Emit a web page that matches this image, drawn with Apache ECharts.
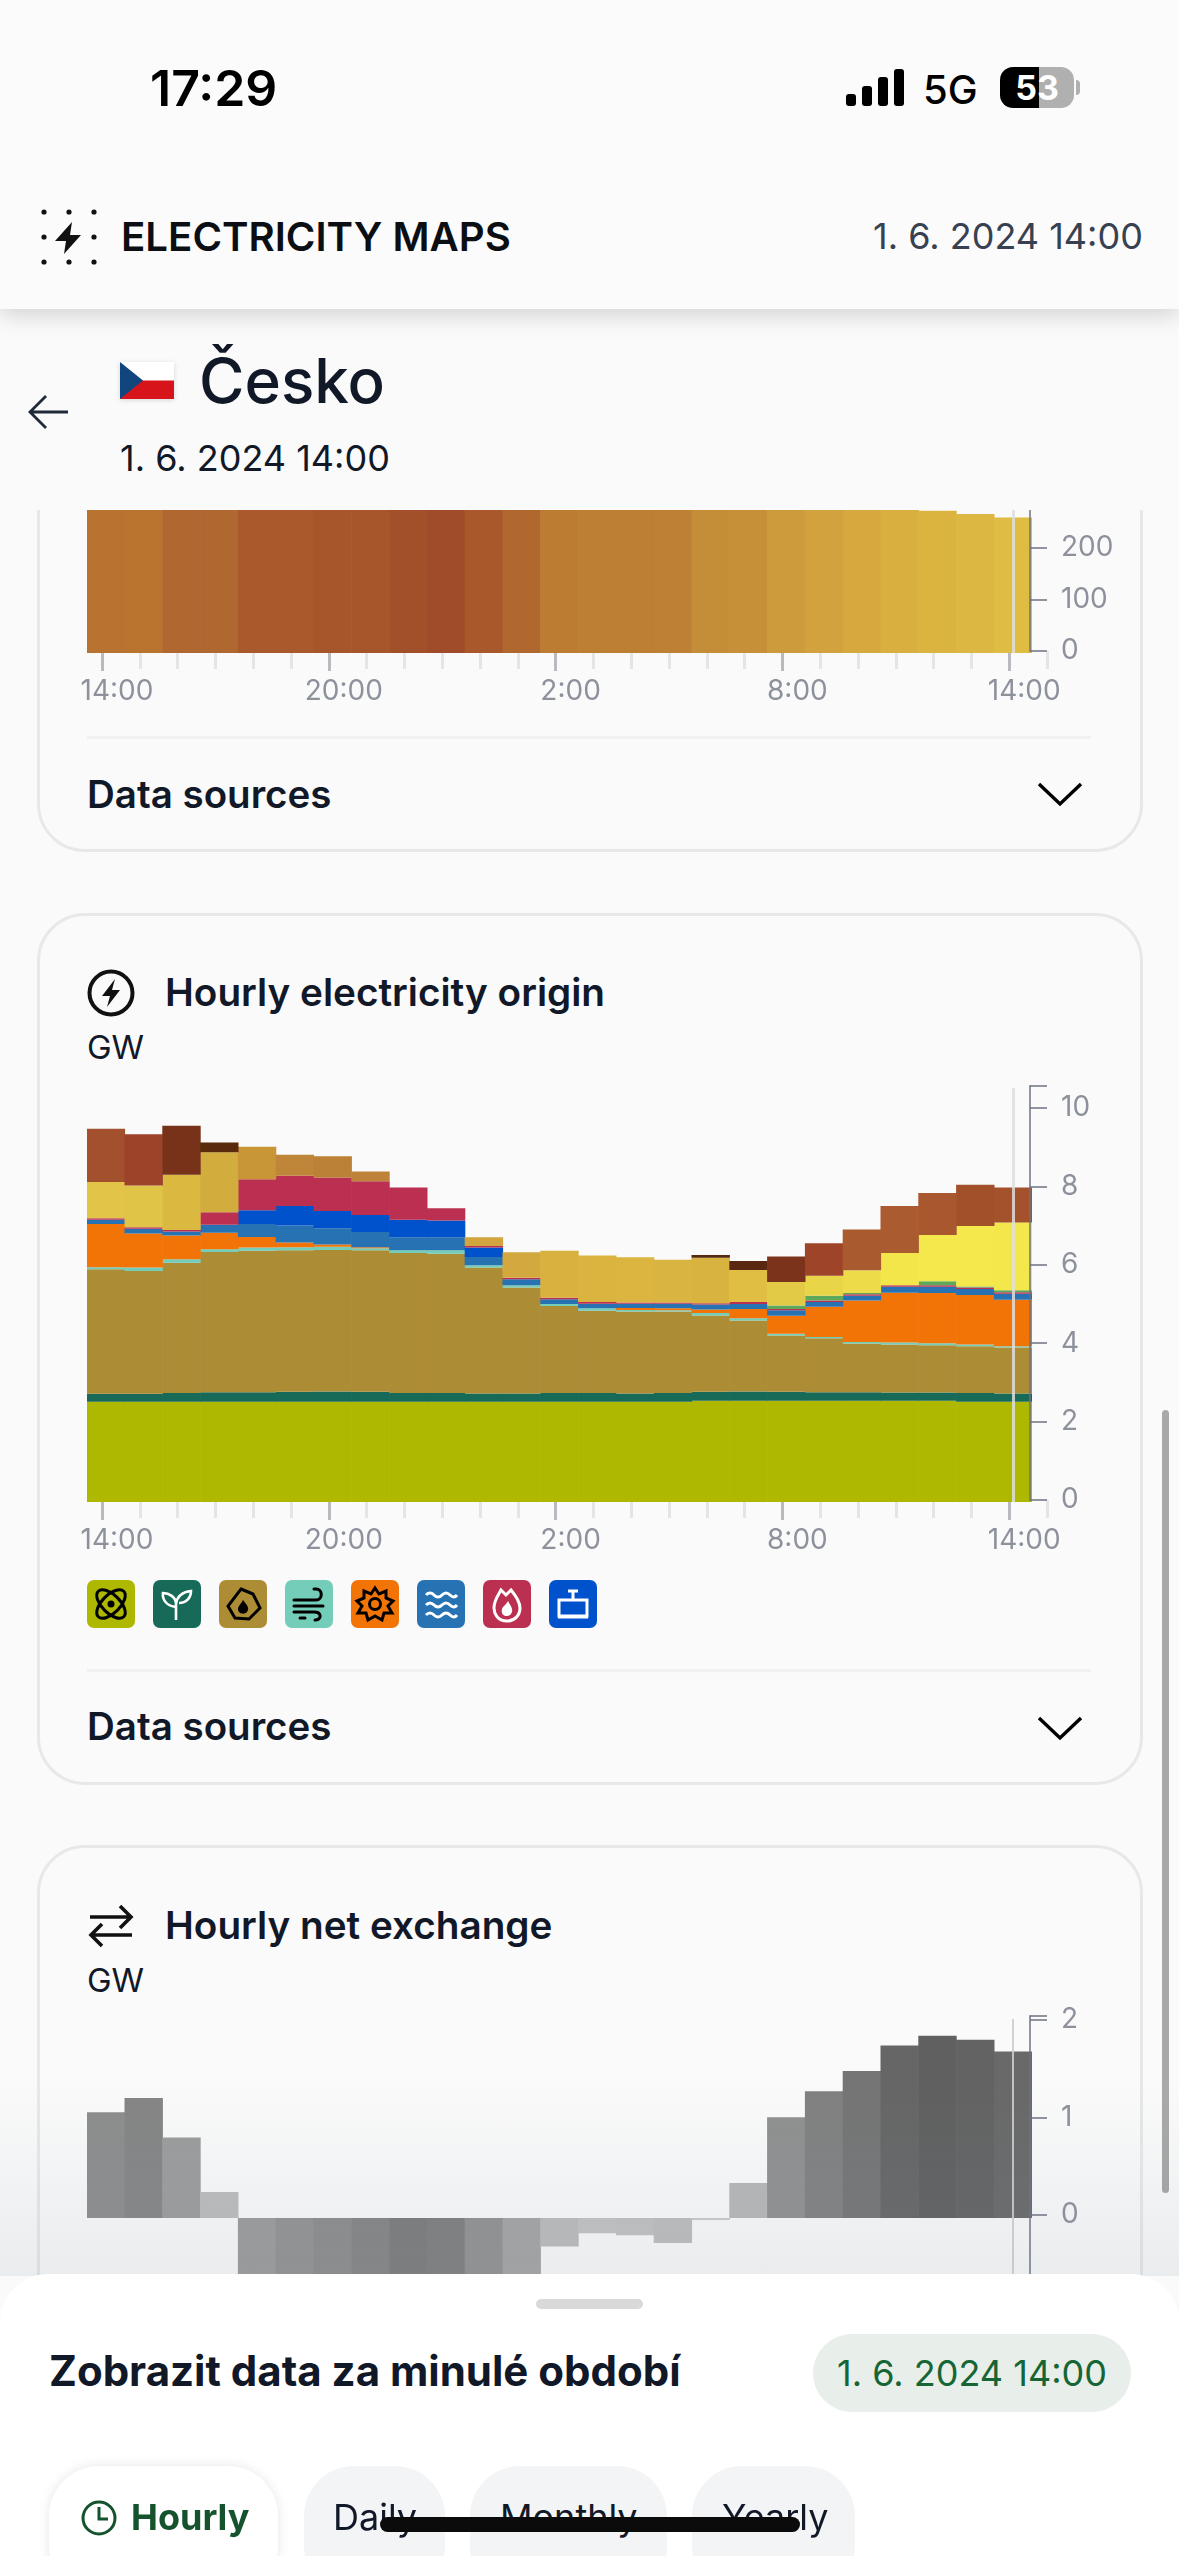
<!DOCTYPE html>
<html><head><meta charset="utf-8">
<script src="https://cdn.jsdelivr.net/npm/echarts@6/dist/echarts.min.js"></script>
<style>
html,body{margin:0;padding:0;background:#fafafa;width:1179px;height:2556px;overflow:hidden;font-family:Inter,"Noto Sans",sans-serif;color:#111827}
.a{position:absolute;white-space:nowrap}
.card{position:absolute;left:37px;width:1100px;border:3px solid #e7e8e9;border-radius:48px;box-sizing:content-box}
.mid{transform:translateY(-50%)}
.ds{left:87px;font-size:38.5px;font-weight:600}
.title{left:165px;font-size:38.7px;font-weight:600}
.gw{left:87px;font-size:33px;font-weight:400}
.div{position:absolute;left:87px;width:1004px;height:3px;background:#f0f1f2}
.lg{position:absolute;width:48px;height:48px;top:1580px;border-radius:7px}
.tab{position:absolute;top:2466px;height:130px;border-radius:50px;background:#f3f4f6}
</style></head><body>
<div class="card" style="top:298px;height:548px"></div>
<div class="card" style="top:913px;height:866px"></div>
<div class="card" style="top:1845px;height:800px"></div>

<div class="a mid ds" style="top:794px">Data sources</div>
<svg class="a" style="left:1036px;top:781px" width="48" height="26"><path d="M3 3 L24 23 L45 3" fill="none" stroke="#000" stroke-width="3.4"/></svg>

<svg class="a" style="left:87px;top:969px" width="48" height="48" viewBox="0 0 48 48"><circle cx="24" cy="24" r="21.5" fill="none" stroke="#111" stroke-width="4"/><path d="M28 10 L15 27 H23 L20 38 L33 21 H25 Z" fill="#111"/></svg>
<div class="a mid title" style="top:992px">Hourly electricity origin</div>
<div class="a mid gw" style="top:1047px">GW</div>

<div class="lg" style="left:87px;background:#aeb800"><svg width="48" height="48" viewBox="0 0 48 48" fill="none" stroke="#000" stroke-width="3"><ellipse cx="24" cy="24" rx="18" ry="9" transform="rotate(45 24 24)"/><ellipse cx="24" cy="24" rx="18" ry="9" transform="rotate(-45 24 24)"/><circle cx="24" cy="24" r="2" fill="#000"/></svg></div>
<div class="lg" style="left:153px;background:#166a57"><svg width="48" height="48" viewBox="0 0 48 48" fill="none" stroke="#fff" stroke-width="2.6"><path d="M23 40 V24 C23 17 16 13 10 13 C9 20 14 26 23 27 M23 24 C24 16 30 12 38 11 C38 18 33 23 26 23"/></svg></div>
<div class="lg" style="left:219px;background:#ac8c35"><svg width="48" height="48" viewBox="0 0 48 48"><path d="M22 9 L34 14 L41 28 L30 39 L16 38 L9 26 Z" fill="none" stroke="#000" stroke-width="3"/><path d="M24 20 C28 25 31 28 28 32 C25 35 19 34 19 29 C19 26 22 24 24 20Z" fill="#000"/></svg></div>
<div class="lg" style="left:285px;background:#74cdb9"><svg width="48" height="48" viewBox="0 0 48 48" fill="none" stroke="#000" stroke-width="3" stroke-linecap="round"><path d="M9 20 H31 C38 20 38 9 31 9 H29 M9 26 H38 M9 32 H29 C37 32 37 40 30 40 M9 26 M20 38 H15"/></svg></div>
<div class="lg" style="left:351px;background:#f27406"><svg width="48" height="48" viewBox="0 0 48 48" fill="none" stroke="#000" stroke-width="3"><path d="M24 8 L28 14 L35 11 L35 18 L42 21 L37 26 L41 33 L33 33 L31 40 L24 36 L17 40 L15 33 L7 33 L11 26 L6 21 L13 18 L13 11 L20 14 Z"/><circle cx="24" cy="24" r="5.5"/></svg></div>
<div class="lg" style="left:417px;background:#2772b2"><svg width="48" height="48" viewBox="0 0 48 48" fill="none" stroke="#fff" stroke-width="3"><path d="M9 15 Q13 11 17 15 T25 15 T33 15 T40 15 M9 25 Q13 21 17 25 T25 25 T33 25 T40 25 M9 35 Q13 31 17 35 T25 35 T33 35 T40 35"/></svg></div>
<div class="lg" style="left:483px;background:#bb2f51"><svg width="48" height="48" viewBox="0 0 48 48"><path d="M24 41 C14 41 11 33 11 28 C11 20 16 14 18 10 L23 15 L28 10 C33 16 37 22 37 28 C37 35 32 41 24 41Z" fill="none" stroke="#fff" stroke-width="3"/><path d="M24 36 C20 36 18 33 19 29 C20 26 23 25 25 21 C27 25 30 28 29 32 C28 35 26 36 24 36Z" fill="#fff"/></svg></div>
<div class="lg" style="left:549px;background:#0052cc"><svg width="48" height="48" viewBox="0 0 48 48" fill="none" stroke="#fff" stroke-width="3"><path d="M10 20 H38 V36 H10 Z M9 37 H39 M24 11 V20 M19 11 H29"/></svg></div>

<div class="div" style="top:736px"></div>
<div class="div" style="top:1669px"></div>
<div class="a mid ds" style="top:1726px">Data sources</div>
<svg class="a" style="left:1036px;top:1715px" width="48" height="26"><path d="M3 3 L24 23 L45 3" fill="none" stroke="#000" stroke-width="3.4"/></svg>

<svg class="a" style="left:87px;top:1903px" width="48" height="46" viewBox="0 0 48 46" fill="none" stroke="#111" stroke-width="3.6"><path d="M3 14 H44 M33 3 L44 14 L33 25 M45 32 H4 M15 21 L4 32 L15 43"/></svg>
<div class="a mid title" style="top:1925px">Hourly net exchange</div>
<div class="a mid gw" style="top:1980px">GW</div>

<div id="chart" class="a" style="left:0;top:0;width:1179px;height:2556px"></div>

<!-- fade behind bottom sheet -->
<div class="a" style="left:0;top:2080px;width:1179px;height:196px;background:linear-gradient(rgba(130,150,165,0),rgba(130,150,165,.13))"></div>

<!-- header area -->
<div class="a" style="left:0;top:0;width:1179px;height:510px;background:#fafafa"></div>
<div class="a" style="left:0;top:0;width:1179px;height:309px;background:#fbfbfb;box-shadow:0 6px 22px rgba(0,0,0,.16)"></div>
<div class="a mid" style="left:150px;top:88px;font-size:50px;font-weight:600;color:#000;font-family:Inter">17:29</div>
<svg class="a" style="left:846px;top:68px" width="60" height="40"><rect x="0" y="26" width="10" height="12" rx="3"/><rect x="16" y="18" width="10" height="20" rx="3"/><rect x="32" y="9" width="10" height="29" rx="3"/><rect x="48" y="1" width="10" height="37" rx="3"/></svg>
<div class="a mid" style="left:923px;top:89px;font-size:40px;font-weight:500;color:#000">5G</div>
<div class="a" style="left:1000px;top:67px;width:74px;height:41px;border-radius:13px;background:linear-gradient(90deg,#000 53%,#b0b0b0 53%);color:#fff;font-size:34px;font-weight:700;line-height:41px;text-align:center">53</div>
<div class="a" style="left:1076px;top:80px;width:4px;height:15px;border-radius:0 4px 4px 0;background:#b0b0b0"></div>

<svg class="a" style="left:40px;top:208px" width="60" height="60" fill="#111"><g><circle cx="4" cy="4" r="2.6"/><circle cx="29" cy="4" r="2.6"/><circle cx="54" cy="4" r="2.6"/><circle cx="4" cy="29" r="2.6"/><circle cx="54" cy="29" r="2.6"/><circle cx="4" cy="54" r="2.6"/><circle cx="29" cy="54" r="2.6"/><circle cx="54" cy="54" r="2.6"/></g><path d="M32 14 L15 33 H26 L24 46 L41 27 H30 Z"/></svg>
<div class="a mid" style="left:121px;top:236px;font-size:40.2px;font-weight:600;color:#0b0f14">ELECTRICITY MAPS</div>
<div class="a mid" style="left:873px;top:236px;font-size:36px;color:#374151">1. 6. 2024 14:00</div>

<svg class="a" style="left:120px;top:362px;box-shadow:0 1px 5px rgba(0,0,0,.15)" width="54" height="37"><rect width="54" height="19" fill="#fff"/><rect y="18.5" width="54" height="18.5" fill="#d7141a"/><path d="M0 0 L23 18.5 L0 37Z" fill="#11457e"/></svg>
<div class="a mid" style="left:199px;top:380px;font-size:62px;font-weight:500;color:#111827">Česko</div>
<div class="a mid" style="left:120px;top:458px;font-size:36px;color:#111827">1. 6. 2024 14:00</div>
<svg class="a" style="left:27px;top:394px" width="44" height="36" fill="none" stroke="#1f2937" stroke-width="2.8"><path d="M19 2 L3 18 L19 34 M3 18 H41"/></svg>

<!-- scrollbar -->
<div class="a" style="left:1162px;top:1410px;width:7px;height:783px;border-radius:4px;background:rgba(0,0,0,.32)"></div>

<!-- bottom sheet -->
<div class="a" style="left:0;top:2274px;width:1179px;height:282px;background:#fff;border-radius:48px 48px 0 0"></div>
<div class="a" style="left:536px;top:2299px;width:107px;height:10px;border-radius:5px;background:#d9d9d9"></div>
<div class="a mid" style="left:49px;top:2370px;font-size:42px;font-weight:700;color:#111827">Zobrazit data za minulé období</div>
<div class="a" style="left:813px;top:2334px;width:318px;height:78px;border-radius:39px;background:#e8eee9;color:#166534;font-size:36px;line-height:78px;text-align:center">1. 6. 2024 14:00</div>
<div class="tab" style="left:49px;width:229px;background:#fff;box-shadow:0 0 12px rgba(0,0,0,.1)"></div>
<svg class="a" style="left:80px;top:2499px" width="38" height="38" fill="none" stroke="#14532d" stroke-width="3"><circle cx="19" cy="19" r="16"/><path d="M19 8 V20 H28"/></svg>
<div class="a mid" style="left:131px;top:2517px;font-size:36px;font-weight:700;color:#14532d">Hourly</div>
<div class="tab" style="left:304px;width:141px"></div>
<div class="a mid" style="left:333px;top:2517px;font-size:36px">Daily</div>
<div class="tab" style="left:470px;width:197px"></div>
<div class="a mid" style="left:500px;top:2517px;font-size:36px">Monthly</div>
<div class="tab" style="left:692px;width:163px"></div>
<div class="a mid" style="left:722px;top:2517px;font-size:36px">Yearly</div>
<div class="a" style="left:380px;top:2517px;width:420px;height:15px;border-radius:8px;background:#0b0b0b"></div>

<script>
// ---- data ----
const hours = ['14:00','15:00','16:00','17:00','18:00','19:00','20:00','21:00','22:00','23:00','0:00','1:00','2:00','3:00','4:00','5:00','6:00','7:00','8:00','9:00','10:00','11:00','12:00','13:00','14:00'];
const tickHours = hours.concat(['15:00']);

// carbon intensity (top panel, upper part scrolled away, tops estimated)
const intensity = [330,328,345,345,365,365,370,372,382,388,368,348,320,318,318,316,303,300,292,288,284,281,276,270,263];
const intensityColors = ['#B7732F','#B9752F','#B06830','#AF6830','#A9592C','#A9592C','#A7562B','#A7562B','#A2502A','#A04C2A','#A9582C','#B0682F','#BC7D33','#BC7F33','#BC7F33','#BD8034','#C48E38','#C69039','#CD9B3B','#D1A23D','#D5A93E','#D9B040','#DBB440','#DCB741','#DFBC42'];

// electricity origin, GW
const nuclear = [2.56,2.56,2.56,2.56,2.56,2.56,2.56,2.56,2.56,2.56,2.56,2.56,2.56,2.56,2.56,2.56,2.58,2.58,2.58,2.58,2.58,2.58,2.58,2.56,2.56];
const biomass = [.20,.20,.22,.24,.24,.25,.26,.25,.22,.22,.21,.21,.22,.22,.21,.22,.23,.24,.23,.22,.22,.21,.21,.22,.21];
const coal = [3.18,3.13,3.32,3.58,3.61,3.61,3.61,3.61,3.57,3.55,3.21,2.70,2.22,2.10,2.09,2.08,1.95,1.81,1.44,1.38,1.24,1.23,1.21,1.19,1.17];
const wind = [.05,.09,.09,.07,.08,.08,.08,.05,.07,.09,.06,.06,.05,.06,.04,.03,.06,.06,.04,.03,.04,.05,.05,.05,.03];
const solar = [1.10,.87,.61,.42,.27,.12,.06,.03,0,0,0,0,0,0,.05,.05,.09,.23,.46,.77,1.06,1.27,1.28,1.26,1.19];
const hydro = [.11,.12,.10,.20,.33,.43,.41,.39,.33,.33,.21,.15,.12,.12,.11,.12,.13,.13,.14,.12,.12,.15,.16,.15,.15];
const hydroStorage = [0,0,0,0,.35,.50,.44,.43,.45,.43,.24,0,0,0,0,0,0,0,0,0,0,0,0,0,0];
const gas = [.04,.04,.04,.32,.79,.77,.86,.86,.82,.31,.04,.04,.04,.04,.03,.03,.03,.05,.03,.04,.04,.04,.04,.04,.04];
const importGreen = [0,0,0,0,0,0,0,0,0,0,0,0,0,0,0,0,0,0,.09,.12,.03,0,.10,.03,.05];
const importA = [.92,1.06,1.41,1.53,.83,.54,.54,.25,0,0,.22,.65,1.20,1.19,1.15,1.09,1.16,.82,.60,.51,.58,.82,1.18,1.54,1.73];
const importB = [1.36,1.31,1.25,.25,0,0,0,0,0,0,0,0,0,0,0,0,.07,.23,.65,.83,1.04,1.20,1.07,1.05,.89];
const importAColors = ['#E2C548','#E0C447','#DBB941','#D3AC3E','#C89637','#BF8538','#BB8137','#BE833A','#C89637','#C89637','#D2A53E','#D3A93F','#D8B13F','#DAB43F','#DBB540','#DAB440','#D9B33F','#DFBE43','#E3CA46','#E9D548','#EDDB4A','#F3E64B','#F4E84C','#F4E84C','#F3E74B'];
const importBColors = ['#A3502E','#9C432A','#773219','#5A2A0C','#5A2A0C','#5A2A0C','#5A2A0C','#5A2A0C','#5A2A0C','#5A2A0C','#5A2A0C','#5A2A0C','#5A2A0C','#5A2A0C','#5A2A0C','#5A2A0C','#53290D','#5A2810','#7B331B','#9E4529','#A95A2F','#AA5B30','#A8572E','#A2502A','#A4522B'];

// net exchange, GW (deep negative bars run under the bottom sheet, estimated)
const netExchange = [1.084,1.23,.824,.267,-.85,-1.0,-1.1,-1.25,-1.4,-1.35,-1.02,-.68,-.294,-.157,-.178,-.256,-.02,.359,1.032,1.30,1.508,1.767,1.867,1.826,1.706];

// ---- chart ----
const axisGrey='rgba(107,114,128,.75)', labelGrey='#8d919c', majorTick='#b9bac0', minorTick='#e4e5e7', nowLine='rgba(222,222,222,.85)';
const chart = echarts.init(document.getElementById('chart'), null, {renderer:'canvas'});
const hiddenCat = gi => ({type:'category',gridIndex:gi,data:hours,show:false,boundaryGap:true});
const minorAxis = gi => ({type:'category',gridIndex:gi,data:tickHours,boundaryGap:false,offset:2,position:'bottom',
  axisLine:{show:false},axisTick:{show:true,interval:0,length:18,lineStyle:{color:minorTick,width:3}},axisLabel:{show:false}});
const majorAxis = (gi,margin) => ({type:'category',gridIndex:gi,data:tickHours,boundaryGap:false,offset:2,position:'bottom',
  axisLine:{show:false},axisTick:{show:true,interval:5,length:18,lineStyle:{color:majorTick,width:3}},
  axisLabel:{show:true,interval:5,margin,fontSize:28,color:labelGrey,fontFamily:'Inter',padding:[0,0,0,30]}});
const hiddenY = (gi,min,max)=>({type:'value',gridIndex:gi,min,max,show:false});
const labelY = (gi,min,max,interval)=>({type:'value',gridIndex:gi,min,max,interval,position:'right',offset:-17,z:6,
  splitLine:{show:false},axisLine:{show:true,lineStyle:{color:axisGrey,width:2}},
  axisTick:{show:true,inside:false,length:17,lineStyle:{color:axisGrey,width:2}},
  axisLabel:{margin:31,fontSize:28,color:labelGrey,fontFamily:'Inter',formatter:v=>(v%interval===0?String(v):'')}});
const bar = (name,data,color,xi,yi,extra)=>Object.assign({type:'bar',name,data,stack:'s'+xi,xAxisIndex:xi,yAxisIndex:yi,
  barWidth:38.4,silent:true,itemStyle:{color}},extra||{});
const mark = {silent:true,symbol:'none',label:{show:false},lineStyle:{color:nowLine,width:3,type:'solid'},data:[{xAxis:24}],z:10};
const colored = (vals,cols)=>vals.map((value,i)=>({value,itemStyle:{color:cols[i]}}));

chart.setOption({
  animation:false,
  grid:[
    {left:87,width:945,top:447,height:206},
    {left:102,width:945,top:445,height:206},
    {left:87,width:945,top:1088,height:414},
    {left:102,width:945,top:1086,height:414},
    {left:87,width:945,top:2019,height:394},
    {left:102,width:945,top:2016,height:394}
  ],
  xAxis:[hiddenCat(0),minorAxis(1),majorAxis(1,25),hiddenCat(2),minorAxis(3),majorAxis(3,25),hiddenCat(4),
    {type:'category',gridIndex:5,data:tickHours,show:false}],
  yAxis:[hiddenY(0,0,400),labelY(1,0,400,100),hiddenY(2,0,10.56),labelY(3,0,10.56,2),hiddenY(4,-2,2.04),labelY(5,-2,2.04,1)],
  series:[
    bar('Carbon intensity',colored(intensity,intensityColors),null,0,0,{markLine:mark}),
    bar('nuclear',nuclear,'#aeb800',3,2,{markLine:mark}),
    bar('biomass',biomass,'#166a57',3,2),
    bar('coal',coal,'#ac8c35',3,2),
    bar('wind',wind,'#74cdb9',3,2),
    bar('solar',solar,'#f27406',3,2),
    bar('hydro',hydro,'#2772b2',3,2),
    bar('hydro storage',hydroStorage,'#0052cc',3,2),
    bar('gas',gas,'#bb2f51',3,2),
    bar('import green',importGreen,'#5ea85b',3,2),
    bar('import A',colored(importA,importAColors),null,3,2),
    bar('import B',colored(importB,importBColors),null,3,2),
    bar('Net exchange',netExchange.map(v=>{const g=Math.round(203.5-57.5*Math.abs(v));return {value:v,itemStyle:{color:`rgb(${g},${g},${g})`}}}),null,6,4,{markLine:Object.assign({},mark,{lineStyle:{color:'rgba(205,205,205,.9)',width:2,type:'solid'}})})
  ]
});
</script>
</body></html>
